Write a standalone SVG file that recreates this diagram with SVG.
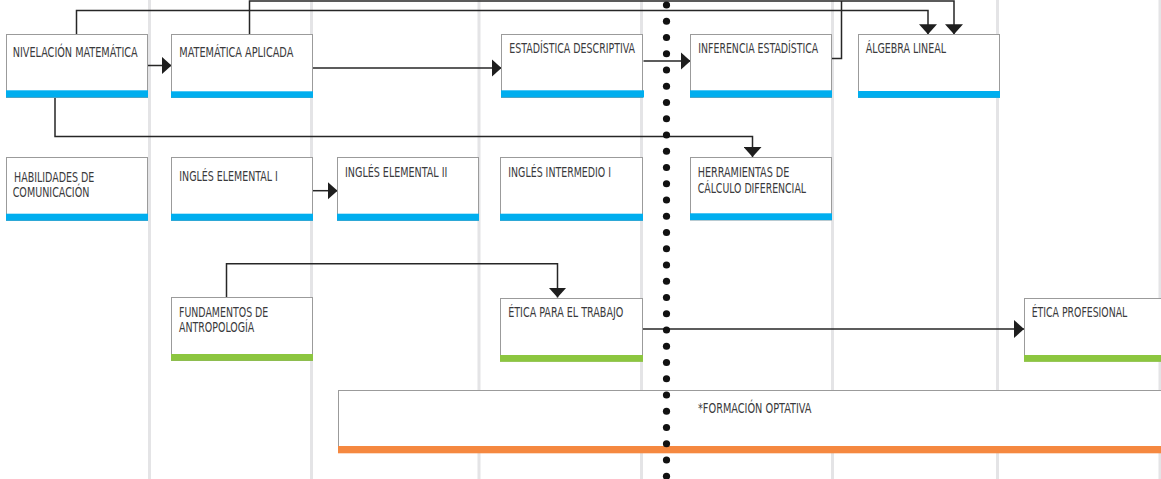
<svg xmlns="http://www.w3.org/2000/svg" width="1161" height="479" viewBox="0 0 1161 479">
<style>
.col{stroke:#e4e4e6;stroke-width:3;}
.box{fill:#fff;stroke:#9b9b9b;stroke-width:1;}
.blue{fill:#00aeef;}
.green{fill:#8cc63f;}
.orange{fill:#f58840;}
.t{font-family:"Liberation Sans Narrow","DejaVu Sans Condensed","Liberation Sans",sans-serif;font-size:14px;fill:#3a3a3c;}
.c{fill:none;stroke:#262626;stroke-width:1.5;marker-end:url(#ah);}
.c0{fill:none;stroke:#262626;stroke-width:1.5;}
.dot{fill:#111;}
</style>
<defs>
<marker id="ah" viewBox="0 0 10 18" refX="10" refY="9" markerWidth="10" markerHeight="18" markerUnits="userSpaceOnUse" orient="auto">
<path d="M0,0 L10,9 L0,18 Z" fill="#1e1e1e"/>
</marker>
</defs>
<rect width="1161" height="479" fill="#fff"/>
<g id="columns">
<line class="col" x1="149.5" y1="0" x2="149.5" y2="479"/>
<line class="col" x1="311.5" y1="0" x2="311.5" y2="479"/>
<line class="col" x1="479" y1="0" x2="479" y2="479"/>
<line class="col" x1="641.5" y1="0" x2="641.5" y2="479"/>
<line class="col" x1="832.5" y1="0" x2="832.5" y2="479"/>
<line class="col" x1="997.5" y1="0" x2="997.5" y2="479"/>
<line class="col" x1="1160" y1="0" x2="1160" y2="479"/>
</g>
<g id="n-formacion">
<rect class="box" x="338.5" y="390.5" width="840" height="62"/>
<rect class="orange" x="338" y="446" width="841" height="7.3"/>
<text class="t" x="698" y="412.5" textLength="113.4" lengthAdjust="spacingAndGlyphs">*FORMACIÓN OPTATIVA</text>
</g>
<g id="connectors">
<path class="c" d="M76.5,34 V10.5 H928 V34.3"/>
<path class="c" d="M249.5,34 V1 H954 V34.3"/>
<path class="c0" d="M832,58.5 H841.5 V1"/>
<path class="c" d="M148,65.5 H171.5"/>
<path class="c" d="M313,68 H501.5"/>
<path class="c" d="M643.5,61 H690.5"/>
<path class="c" d="M55,97 V136.5 H752.5 V157"/>
<path class="c" d="M313,190.7 H337.5"/>
<path class="c" d="M226.5,297.5 V263.7 H557.5 V297.5"/>
<path class="c" d="M642.5,329 H1024"/>
</g>
<g id="n-nivelacion">
<rect class="box" x="6.5" y="34.5" width="141" height="63"/>
<rect class="blue" x="6" y="90.3" width="142" height="7.2"/>
<text class="t" x="12.7" y="56.5" textLength="125" lengthAdjust="spacingAndGlyphs">NIVELACIÓN MATEMÁTICA</text>
</g>
<g id="n-matematica-aplicada">
<rect class="box" x="171.5" y="34.5" width="141" height="63"/>
<rect class="blue" x="171" y="91.3" width="142" height="6.5"/>
<text class="t" x="179.3" y="56.5" textLength="114" lengthAdjust="spacingAndGlyphs">MATEMÁTICA APLICADA</text>
</g>
<g id="n-estadistica-descriptiva">
<rect class="box" x="501.5" y="34.5" width="141" height="63"/>
<rect class="blue" x="501" y="90.3" width="143" height="7.2"/>
<text class="t" x="509.3" y="53.3" textLength="125.7" lengthAdjust="spacingAndGlyphs">ESTADÍSTICA DESCRIPTIVA</text>
</g>
<g id="n-inferencia">
<rect class="box" x="690.5" y="34.5" width="141" height="63"/>
<rect class="blue" x="690" y="90.3" width="142" height="7.2"/>
<text class="t" x="698.3" y="53.3" textLength="120" lengthAdjust="spacingAndGlyphs">INFERENCIA ESTADÍSTICA</text>
</g>
<g id="n-algebra">
<rect class="box" x="858.5" y="34.5" width="141" height="63"/>
<rect class="blue" x="858" y="91" width="142" height="6.8"/>
<text class="t" x="865.7" y="53.3" textLength="80.3" lengthAdjust="spacingAndGlyphs">ÁLGEBRA LINEAL</text>
</g>
<g id="n-habilidades">
<rect class="box" x="6.5" y="157.5" width="141" height="63"/>
<rect class="blue" x="6" y="213.7" width="142" height="7"/>
<text class="t" x="14" y="181.5" textLength="80.3" lengthAdjust="spacingAndGlyphs">HABILIDADES DE</text>
<text class="t" x="12.7" y="197" textLength="76.7" lengthAdjust="spacingAndGlyphs">COMUNICACIÓN</text>
</g>
<g id="n-ingles-elemental-1">
<rect class="box" x="171.5" y="157.5" width="141" height="63"/>
<rect class="blue" x="171" y="213.7" width="142" height="7"/>
<text class="t" x="179.3" y="180.5" textLength="98.5" lengthAdjust="spacingAndGlyphs">INGLÉS ELEMENTAL I</text>
</g>
<g id="n-ingles-elemental-2">
<rect class="box" x="337.5" y="157.5" width="141" height="63"/>
<rect class="blue" x="337" y="213.7" width="142" height="7"/>
<text class="t" x="345" y="176.5" textLength="102.3" lengthAdjust="spacingAndGlyphs">INGLÉS ELEMENTAL II</text>
</g>
<g id="n-ingles-intermedio">
<rect class="box" x="500.5" y="157.5" width="142" height="63"/>
<rect class="blue" x="500" y="213.7" width="143" height="7"/>
<text class="t" x="508.3" y="176.5" textLength="102.7" lengthAdjust="spacingAndGlyphs">INGLÉS INTERMEDIO I</text>
</g>
<g id="n-herramientas">
<rect class="box" x="690.5" y="157.5" width="141" height="62.5"/>
<rect class="blue" x="690" y="213.3" width="142" height="6.8"/>
<text class="t" x="697.7" y="176.7" textLength="91.7" lengthAdjust="spacingAndGlyphs">HERRAMIENTAS DE</text>
<text class="t" x="697.7" y="192.5" textLength="108.3" lengthAdjust="spacingAndGlyphs">CÁLCULO DIFERENCIAL</text>
</g>
<g id="n-fundamentos">
<rect class="box" x="171.5" y="297.5" width="141" height="63"/>
<rect class="green" x="171" y="354" width="142" height="6.8"/>
<text class="t" x="179" y="316.7" textLength="89.3" lengthAdjust="spacingAndGlyphs">FUNDAMENTOS DE</text>
<text class="t" x="179" y="332.3" textLength="75.3" lengthAdjust="spacingAndGlyphs">ANTROPOLOGÍA</text>
</g>
<g id="n-etica-trabajo">
<rect class="box" x="500.5" y="298.5" width="142" height="62.5"/>
<rect class="green" x="500" y="355" width="143" height="6.8"/>
<text class="t" x="508.2" y="317" textLength="115.2" lengthAdjust="spacingAndGlyphs">ÉTICA PARA EL TRABAJO</text>
</g>
<g id="n-etica-profesional">
<rect class="box" x="1024.5" y="298.5" width="150" height="62.5"/>
<rect class="green" x="1024" y="355" width="150" height="6.8"/>
<text class="t" x="1031.7" y="317" textLength="95.6" lengthAdjust="spacingAndGlyphs">ÉTICA PROFESIONAL</text>
</g>
<g id="semester-divider" class="dot">
<circle cx="666.5" cy="5" r="3.6"/><circle cx="666.5" cy="21.25" r="3.6"/><circle cx="666.5" cy="37.5" r="3.6"/><circle cx="666.5" cy="53.75" r="3.6"/><circle cx="666.5" cy="70" r="3.6"/><circle cx="666.5" cy="86.25" r="3.6"/><circle cx="666.5" cy="102.5" r="3.6"/><circle cx="666.5" cy="118.75" r="3.6"/><circle cx="666.5" cy="135" r="3.6"/><circle cx="666.5" cy="151.25" r="3.6"/><circle cx="666.5" cy="167.5" r="3.6"/><circle cx="666.5" cy="183.75" r="3.6"/><circle cx="666.5" cy="200" r="3.6"/><circle cx="666.5" cy="216.25" r="3.6"/><circle cx="666.5" cy="232.5" r="3.6"/><circle cx="666.5" cy="248.75" r="3.6"/><circle cx="666.5" cy="265" r="3.6"/><circle cx="666.5" cy="281.25" r="3.6"/><circle cx="666.5" cy="297.5" r="3.6"/><circle cx="666.5" cy="313.75" r="3.6"/><circle cx="666.5" cy="330" r="3.6"/><circle cx="666.5" cy="346.25" r="3.6"/><circle cx="666.5" cy="362.5" r="3.6"/><circle cx="666.5" cy="378.75" r="3.6"/><circle cx="666.5" cy="395" r="3.6"/><circle cx="666.5" cy="411.25" r="3.6"/><circle cx="666.5" cy="427.5" r="3.6"/><circle cx="666.5" cy="443.75" r="3.6"/><circle cx="666.5" cy="460" r="3.6"/><circle cx="666.5" cy="476.25" r="3.6"/>
</g>
</svg>
